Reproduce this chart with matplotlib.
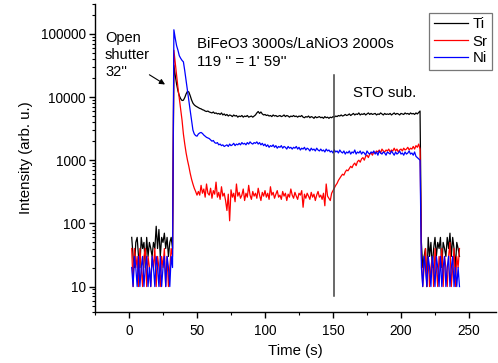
import numpy as np
import matplotlib
matplotlib.use("Agg")
import matplotlib.pyplot as plt
from matplotlib import ticker

plt.rcParams['font.family'] = ['Liberation Sans', 'DejaVu Sans']

# ---------------- data ----------------
time_s = np.arange(2, 244)  # one reading per second, 2 s ... 243 s

ti_pre = [60, 30, 20, 50, 60, 30, 20, 60, 40, 50, 20, 60, 30, 50, 40, 30, 50, 40, 90, 40, 80, 30, 60, 50, 70, 40, 60, 30, 50, 60, 40]
sr_pre = [40, 10, 40, 20, 30, 10, 40, 20, 10, 30, 40, 10, 30, 20, 10, 30, 20, 40, 10, 30, 20, 10, 30, 20, 40, 10, 30, 10, 20, 40, 30]
ni_pre = [20, 10, 30, 20, 10, 30, 10, 20, 30, 10, 20, 30, 10, 20, 10, 30, 20, 10, 30, 20, 10, 30, 10, 20, 30, 10, 30, 20, 10, 30, 20]

# t = 33 ... 50 : shutter opening transient
ti_rise = [32000, 22000, 16000, 12500, 10500, 9400, 8800, 8900, 9800, 11200, 12300, 12000, 10500, 9000, 8000, 7500, 7200, 7000]
sr_rise = [55000, 35000, 22000, 14000, 9500, 6500, 4300, 2600, 1800, 1300, 1000, 800, 620, 500, 420, 360, 320, 280]
ni_rise = [116000, 85000, 65000, 55000, 45000, 41000, 38000, 36000, 26000, 18000, 12600, 8800, 6100, 4300, 3000, 2600, 2450, 2400]

# t = 51 ... 213 : growth plateau
ti_plat = [6800, 6600, 6500, 6300, 6200, 6000, 5900, 6000, 5800, 5700,
           5600, 5800, 5500, 5600, 5400, 5500, 5300, 5600, 5200, 5400,
           5100, 5300, 5000, 5200, 5100, 4900, 5200, 5000, 5100, 4800,
           5000, 4900, 5100, 4800, 5000, 4900, 5100, 4800, 4900, 5000,
           4800, 5000, 5200, 5600, 5900, 5500, 5800, 5400, 5200, 5300,
           5100, 5200, 5000, 5100, 4900, 5200, 5000, 5100, 4900, 5000,
           5100, 4900, 5000, 5200, 4900, 5100, 5000, 4800, 5000, 4900,
           5100, 4900, 5000, 4800, 5000, 4900, 5100, 4800, 4700, 4900,
           4800, 5000, 4700, 4900, 4800, 4600, 4900, 4700, 4800, 4900,
           4700, 4800, 4600, 4900, 4700, 4800, 4600, 4800, 4700, 4900,
           4800, 5000, 4900, 5100, 5000, 5200, 5000, 5100, 5300, 5100,
           5200, 5400, 5100, 5300, 5500, 5200, 5400, 5300, 5600, 5200,
           5400, 5300, 5500, 5200, 5400, 5600, 5300, 5500, 5300, 5400,
           5500, 5200, 5400, 5300, 5600, 5400, 5200, 5500, 5300, 5400,
           5300, 5500, 5200, 5400, 5600, 5300, 5500, 5400, 5200, 5500,
           5400, 5300, 5600, 5400, 5500, 5300, 5600, 5400, 5500, 5300,
           5600, 5400, 5700]
sr_plat = [320, 280, 400, 300, 350, 260, 420, 300, 280, 360,
           250, 330, 290, 450, 260, 310, 240, 380, 270, 300,
           230, 160, 290, 110, 340, 260, 300, 220, 420, 270,
           310, 250, 280, 350, 230, 300, 260, 400, 280, 240,
           320, 270, 300, 250, 360, 280, 230, 310, 270, 330,
           260, 300, 240, 380, 280, 310, 250, 290, 330, 260,
           280, 240, 320, 270, 300, 230, 290, 260, 350, 280,
           250, 310, 270, 240, 300, 280, 330, 180, 290, 250,
           300, 270, 240, 310, 260, 290, 230, 280, 320, 260,
           280, 240, 300, 190, 420, 270, 250, 230, 300, 330,
           360, 400, 430, 480, 520, 560, 600, 580, 650, 700,
           680, 740, 800, 760, 850, 900, 820, 950, 1000, 930,
           1050, 1100, 1000, 1150, 1200, 1100, 1250, 1300, 1200, 1350,
           1300, 1400, 1350, 1450, 1300, 1500, 1400, 1350, 1450, 1400,
           1500, 1350, 1450, 1400, 1550, 1400, 1500, 1350, 1450, 1500,
           1400, 1550, 1450, 1500, 1600, 1450, 1550, 1500, 1650, 1500,
           1700, 1600, 1800]
ni_plat = [2600, 2700, 2750, 2650, 2500, 2400, 2300, 2250, 2200, 2100,
           2000, 2050, 1900, 1850, 1900, 1750, 1800, 1700, 1750, 1650,
           1700, 1750, 1650, 1800, 1700, 1750, 1850, 1700, 1800, 1750,
           1850, 1750, 1900, 1800, 1850, 1750, 1900, 1800, 1950, 1850,
           1800, 1900, 1850, 1950, 1800, 1900, 1750, 1850, 1700, 1800,
           1650, 1750, 1600, 1700, 1650, 1750, 1600, 1700, 1550, 1650,
           1600, 1700, 1550, 1650, 1600, 1500, 1650, 1550, 1600, 1500,
           1600, 1550, 1650, 1500, 1600, 1450, 1550, 1500, 1600, 1450,
           1550, 1500, 1400, 1550, 1450, 1500, 1400, 1550, 1450, 1400,
           1500, 1400, 1450, 1350, 1500, 1400, 1450, 1350, 1400, 1300,
           1450, 1350, 1400, 1300, 1450, 1350, 1300, 1400, 1250, 1350,
           1300, 1400, 1250, 1350, 1300, 1450, 1250, 1350, 1300, 1400,
           1250, 1350, 1300, 1200, 1400, 1300, 1250, 1350, 1300, 1400,
           1250, 1350, 1200, 1400, 1300, 1250, 1350, 1300, 1200, 1350,
           1300, 1250, 1400, 1300, 1200, 1350, 1250, 1300, 1400, 1250,
           1300, 1200, 1350, 1250, 1300, 1400, 1250, 1300, 1200, 1350,
           1150, 1100, 1050]

# t = 214 : last point before closing
ti_end = [6000]
sr_end = [1500]
ni_end = [1000]

# t = 215 ... 243 : shutter closed
ti_post = [50, 20, 30, 40, 10, 60, 30, 50, 20, 40, 60, 30, 50, 40, 60, 20, 50, 40, 30, 60, 40, 70, 30, 60, 40, 20, 50, 40, 30]
sr_post = [30, 10, 20, 40, 10, 30, 10, 20, 30, 10, 40, 20, 10, 30, 20, 40, 10, 30, 20, 10, 30, 50, 10, 20, 40, 10, 30, 20, 40]
ni_post = [20, 10, 30, 20, 10, 30, 20, 10, 30, 20, 10, 30, 20, 10, 30, 10, 20, 30, 10, 20, 30, 10, 20, 30, 10, 20, 10, 20, 10]

ti = ti_pre + ti_rise + ti_plat + ti_end + ti_post
sr = sr_pre + sr_rise + sr_plat + sr_end + sr_post
ni = ni_pre + ni_rise + ni_plat + ni_end + ni_post

series_names = ["Ti", "Sr", "Ni"]
series_colors = ["black", "#ff0000", "#0000ff"]

sub_time = 151
sub_line_range = [7.2, 22700]

# ---------------- figure ----------------
W, H = 498, 363
fig = plt.figure(figsize=(W / 100, H / 100), dpi=100)
ax = fig.add_axes([95 / W, (H - 311.7) / H, 401.2 / W, 308 / H])

for vals, name, col in zip([ti, sr, ni], series_names, series_colors):
    ax.plot(time_s, vals, color=col, lw=0.9, label=name)

ax.plot([sub_time, sub_time], sub_line_range, color="#404040", lw=1.1, zorder=5)

ax.set_yscale("log")
ax.set_xlim(-25, 270)
ax.set_ylim(4, 3e5)

for s in ["top", "right"]:
    ax.spines[s].set_visible(False)
for s in ["left", "bottom"]:
    ax.spines[s].set_linewidth(1.0)

ax.xaxis.set_major_locator(ticker.MultipleLocator(50))
ax.xaxis.set_minor_locator(ticker.MultipleLocator(25))
ax.yaxis.set_major_locator(ticker.LogLocator(base=10, numticks=10))
ax.yaxis.set_minor_locator(ticker.LogLocator(base=10, subs=np.arange(2, 10), numticks=20))
ax.yaxis.set_major_formatter(ticker.FuncFormatter(lambda v, p: f"{int(round(v))}"))
ax.yaxis.set_minor_formatter(ticker.NullFormatter())

ax.tick_params(which="major", direction="out", length=4.5, width=1.0, labelsize=9.8, pad=2)
ax.tick_params(which="minor", direction="out", length=2.5, width=0.8)
ax.tick_params(axis="x", which="major", pad=4)

ax.set_xlabel("Time (s)", fontsize=10.8, labelpad=5)
ax.set_ylabel("Intensity (arb. u.)", fontsize=10.8, labelpad=6)

# annotations (pixel positions converted to figure fractions)
def fx(x):
    return x / W

def fy(y):
    return 1 - y / H

fig.text(fx(105), fy(55), "Open\nshutter\n32''", fontsize=10.5, va="center", ha="left",
         linespacing=1.25)
ax.annotate("", xy=(26.5, 15800), xytext=(15.0, 22500),
            arrowprops=dict(arrowstyle="-|>", color="black", lw=0.8,
                            mutation_scale=8, shrinkA=0, shrinkB=0))
fig.text(fx(196.5), fy(44), "BiFeO3 3000s/LaNiO3 2000s", fontsize=10.8, va="center", ha="left")
fig.text(fx(196.5), fy(62), "119 '' = 1' 59''", fontsize=10.8, va="center", ha="left")
fig.text(fx(353), fy(93), "STO sub.", fontsize=10.8, va="center", ha="left")

leg = ax.legend(loc="upper right", bbox_to_anchor=(fx(492), fy(13)), bbox_transform=fig.transFigure,
                borderaxespad=0, fontsize=10.8, frameon=True, fancybox=False,
                edgecolor="#555555", handlelength=2.3, handletextpad=0.3,
                labelspacing=0.2, borderpad=0.3)
leg.get_frame().set_linewidth(0.9)

fig.savefig("out.png", dpi=100)
